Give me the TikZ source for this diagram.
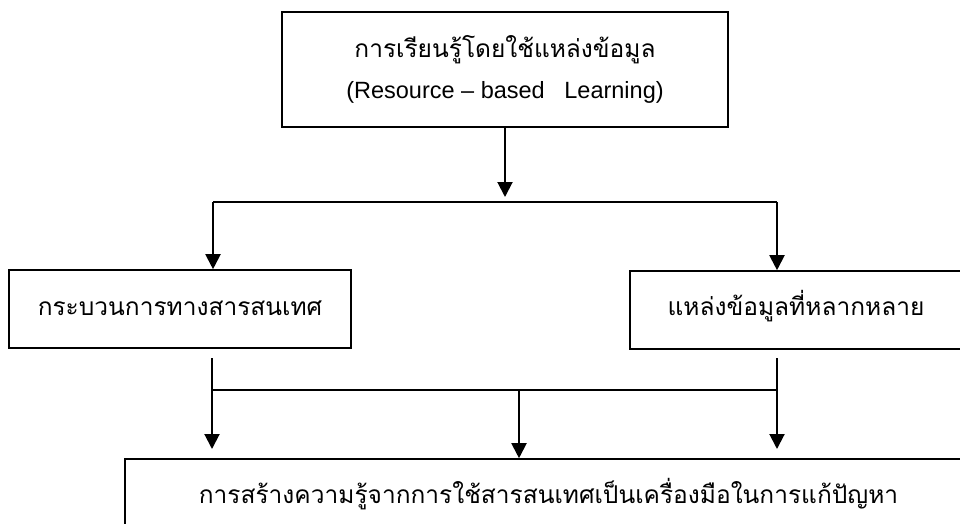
\documentclass[tikz,border=0pt]{standalone}
\usepackage{fontspec}
\setmainfont{Liberation Sans}
\newfontfamily\thaifont[Script=Thai]{Loma}
\usetikzlibrary{arrows.meta}

\begin{document}
\begin{tikzpicture}[x=1pt,y=-1pt,
		box/.style={draw,line width=1.6pt,inner sep=0pt,font=\thaifont\fontsize{24.5}{28}\selectfont},
		arr/.style={line width=2pt,-{Triangle[width=15pt,length=15pt]}},
		joint/.style={line width=2pt}
	]
	\useasboundingbox (0,0) rectangle (960,524);
	\node[box,minimum width=446pt,minimum height=115pt,align=center] (top) at (505,69.5)
		{การเรียนรู้โดยใช้แหล่งข้อมูล\\[13pt]{\normalfont\fontsize{23.5}{26}\selectfont(Resource – based\ \ \ Learning)}};
	\node[box,minimum width=342pt,minimum height=78pt,text height=45pt,text depth=33pt] (proc) at (180,309) {กระบวนการทางสารสนเทศ};
	\node[box,minimum width=332pt,minimum height=78pt,text height=44pt,text depth=34pt] (src) at (796,310) {แหล่งข้อมูลที่หลากหลาย};
	\node[box,minimum width=847pt,minimum height=81pt,text height=44pt,text depth=37pt] (know) at (548.5,499.5)
		{การสร้างความรู้จากการใช้สารสนเทศเป็นเครื่องมือในการแก้ปัญหา};
	% fork below the top box
	\coordinate (fork) at (505,197);
	\coordinate (forkL) at (213,202);
	\coordinate (forkR) at (777,202);
	\draw[arr] (top.south) -- (fork);
	\draw[joint] (forkL) -- (forkR);
	\draw[arr] (forkL) -- (forkL |- proc.north);
	\draw[arr] (forkR) -- (forkR |- src.north);
	% joint above the bottom box
	\coordinate (joinL) at (212,358);
	\coordinate (joinR) at (777,358);
	\coordinate (joinM) at (519,390);
	\draw[arr] (joinL) -- (212,449);
	\draw[arr] (joinR) -- (777,449);
	\draw[joint] (joinL |- joinM) -- (joinR |- joinM);
	\draw[arr] (joinM) -- (joinM |- know.north);
\end{tikzpicture}
\end{document}
